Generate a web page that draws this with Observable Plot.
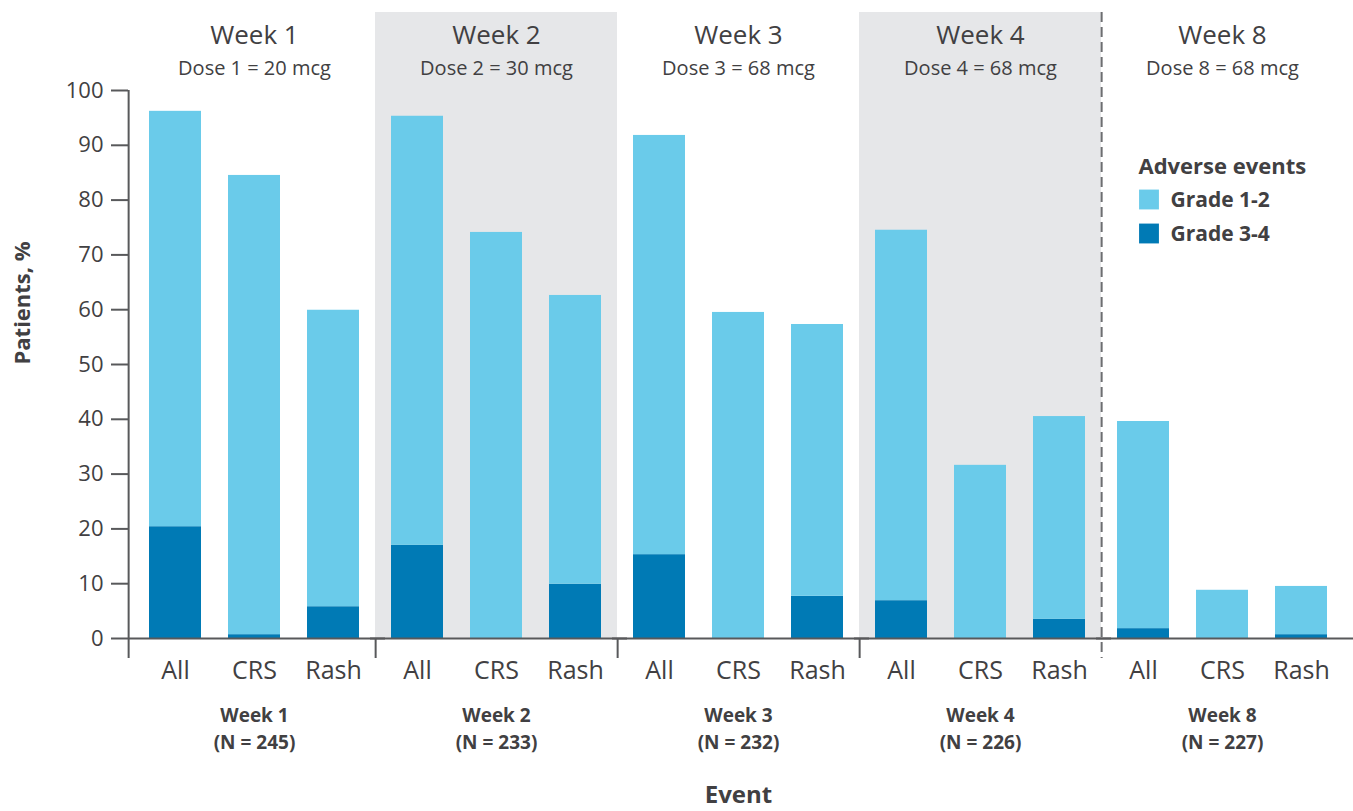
<!DOCTYPE html>
<html><head><meta charset="utf-8">
<script src="https://cdn.jsdelivr.net/npm/d3@7"></script>
<script src="https://cdn.jsdelivr.net/npm/@observablehq/plot@0.6"></script>
<style>
html,body{margin:0;padding:0;background:#fff;}
#chart svg{display:block;}
</style></head><body><div id="chart"></div>
<script>
// ---- data ----
const weeks = ["Week 1","Week 2","Week 3","Week 4","Week 8"];
const doses = ["Dose 1 = 20 mcg","Dose 2 = 30 mcg","Dose 3 = 68 mcg","Dose 4 = 68 mcg","Dose 8 = 68 mcg"];
const patientsN = [245, 233, 232, 226, 227];
const events = ["All","CRS","Rash"];
const grades = ["Grade 1-2","Grade 3-4"];
const gradeColors = ["#6ACBEA","#007AB5"];
// Grade 1-2 and Grade 3-4 percentages, per week (rows) and event (All, CRS, Rash)
const grade12 = [[75.8,83.8,54.1],[78.3,74.1,52.7],[76.5,59.5,49.6],[67.6,31.6,37.0],[37.8,8.8,8.8]];
const grade34 = [[20.4,0.7,5.8],[17.0,0,9.9],[15.3,0,7.7],[6.9,0,3.5],[1.8,0,0.7]];
const yTicks = [0,10,20,30,40,50,60,70,80,90,100];
const shadedWeeks = ["Week 2","Week 4"];
const yLabel = "Patients, %";
const xLabel = "Event";
const legendTitle = "Adverse events";

// ---- build tables ----
const rows = [];
weeks.forEach((w, i) => events.forEach((e, j) => {
  rows.push({week: w, event: e, grade: grades[1], value: grade34[i][j]});
  rows.push({week: w, event: e, grade: grades[0], value: grade12[i][j]});
}));
const weekInfo = weeks.map((w, i) => ({week: w, dose: doses[i], n: patientsN[i]}));
const eventLabels = weeks.flatMap(w => events.map(e => ({week: w, event: e})));
const legendWeek = weeks[weeks.length - 1];

// ---- layout ----
const W = 1353, H = 811, mT = 90, mB = 173, mL = 133, mR = 10;
const plotH = H - mT - mB;
const pIn = 0.342, pOut = 0.2;
const facetW = (W - mL - mR) / weeks.length;
const step = facetW / (events.length - pIn + 2 * pOut);
const bandStart = (facetW - step * (events.length - pIn)) / 2;
const firstCenter = bandStart + step * (1 - pIn) / 2;
const ink = "#414042", axisInk = "#58595B";
const font = "Open Sans, Noto Sans, sans-serif";

const legendMarks = grades.flatMap((g, i) => [
  Plot.dot([{week: legendWeek, grade: g}], {fx: "week", frameAnchor: "top-left", dx: 47.5, dy: 109 + 34 * i,
    symbol: "square", r: 11.2, fill: "grade", stroke: null}),
  Plot.text([{week: legendWeek, grade: g}], {fx: "week", text: "grade", frameAnchor: "top-left", textAnchor: "start",
    lineAnchor: "middle", dx: 69, dy: 110 + 34 * i, fontSize: 21, fontWeight: "bold", fill: ink})
]);

const chart = Plot.plot({
  width: W, height: H,
  marginTop: mT, marginBottom: mB, marginLeft: mL, marginRight: mR,
  style: {fontFamily: font, color: ink, background: "#fff", overflow: "visible"},
  fx: {domain: weeks, padding: 0, axis: null, label: null},
  x: {domain: events, paddingInner: pIn, paddingOuter: pOut, axis: null, label: null},
  y: {domain: [0, 100], label: null},
  color: {domain: grades, range: gradeColors},
  marks: [
    Plot.rect(shadedWeeks, {fx: d => d, y1: 0, y2: 100, insetTop: -78, fill: "#E6E7E9"}),
    Plot.barY(rows, {fx: "week", x: "event", y: "value", fill: "grade"}),
    Plot.ruleY([0], {stroke: axisInk, strokeWidth: 2, insetLeft: -5, insetRight: -10}),
    // group separator ticks
    Plot.ruleX(weeks.slice(1, 4), {fx: d => d, x: () => events[0], dx: -firstCenter, insetTop: plotH, insetBottom: -20, stroke: axisInk, strokeWidth: 2}),
    // y axis line
    Plot.ruleX(weeks.slice(0, 1), {fx: d => d, x: () => events[0], dx: -firstCenter - 5, insetBottom: -20, stroke: axisInk, strokeWidth: 2}),
    // dashed divider before week 8
    Plot.ruleX(weeks.slice(4), {fx: d => d, x: () => events[0], dx: -firstCenter, insetTop: -78, insetBottom: -20, stroke: "#6D6E71", strokeWidth: 2, strokeDasharray: "10,5"}),
    Plot.axisY({ticks: yTicks, tickSize: 17, tickPadding: 8, dx: -5, fontSize: 22, stroke: axisInk, strokeWidth: 2, fill: ink, label: null}),
    // headers
    Plot.text(weekInfo, {fx: "week", text: "week", frameAnchor: "top", lineAnchor: "middle", dy: -55, fontSize: 26, fill: ink}),
    Plot.text(weekInfo, {fx: "week", text: "dose", frameAnchor: "top", lineAnchor: "middle", dy: -22, fontSize: 20, fill: ink}),
    // event labels
    Plot.text(eventLabels, {fx: "week", x: "event", text: "event", frameAnchor: "bottom", lineAnchor: "middle", dy: 32, fontSize: 25, fill: ink}),
    // week / N labels
    Plot.text(weekInfo, {fx: "week", text: "week", frameAnchor: "bottom", lineAnchor: "middle", dy: 77, fontSize: 19, fontWeight: "bold", fill: ink}),
    Plot.text(weekInfo, {fx: "week", text: d => `(N = ${d.n})`, frameAnchor: "bottom", lineAnchor: "middle", dy: 104, fontSize: 19, fontWeight: "bold", fill: ink}),
    // axis titles
    Plot.text([weeks[0]], {fx: d => d, text: () => yLabel, frameAnchor: "left", lineAnchor: "middle", dx: -111, rotate: -90, fontSize: 22, fontWeight: "bold", fill: ink}),
    Plot.text([weeks[2]], {fx: d => d, text: () => xLabel, frameAnchor: "bottom", lineAnchor: "middle", dy: 157, fontSize: 24, fontWeight: "bold", fill: ink}),
    // legend
    Plot.text([legendWeek], {fx: d => d, text: () => legendTitle, frameAnchor: "top-left", textAnchor: "start", lineAnchor: "middle", dx: 37, dy: 76, fontSize: 22, fontWeight: "bold", fill: ink}),
    ...legendMarks
  ]
});
document.getElementById("chart").appendChild(chart);
</script></body></html>
